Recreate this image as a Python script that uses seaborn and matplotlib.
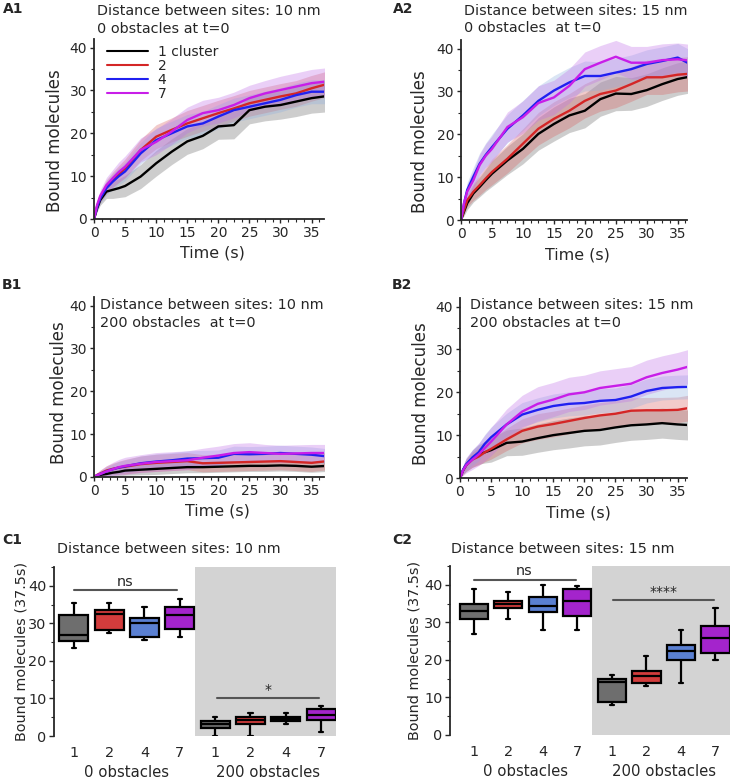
import numpy as np
import pandas as pd
import matplotlib
matplotlib.use("Agg")
import matplotlib.pyplot as plt
import matplotlib.transforms as mtransforms
import seaborn as sns
from matplotlib.ticker import MultipleLocator

sns.set_style("ticks")
plt.rcParams["font.family"] = ["DejaVu Sans"]

# ---------- data ----------

SERIES = ["1 cluster", "2", "4", "7"]
TIME = [0, 0.5, 1, 2, 3, 4, 5, 7.5, 10, 12.5, 15, 17.5, 20, 22.5, 25, 27.5, 30, 32.5, 35, 37.5]

# A1: 10 nm, 0 obstacles
a1_black = [0, 2.5, 4.4, 6.4, 6.8, 7.2, 7.7, 9.9, 13.0, 15.7, 18.1, 19.4, 21.6, 21.9, 25.4, 26.2, 26.6, 27.4, 28.2, 28.7]
a1_red = [0, 3.0, 5.0, 7.5, 9.1, 10.5, 11.8, 16.1, 19.2, 20.8, 22.3, 23.5, 24.7, 25.8, 27.0, 27.8, 28.6, 29.3, 30.5, 31.5]
a1_blue = [0, 2.8, 4.8, 7.2, 8.7, 10.0, 11.1, 15.3, 18.4, 20.0, 21.6, 22.3, 23.9, 25.4, 26.2, 27.0, 27.8, 28.9, 29.7, 29.7]
a1_magenta = [0, 3.3, 5.4, 7.9, 9.5, 11.0, 12.2, 16.1, 18.0, 20.4, 23.1, 24.7, 25.4, 26.6, 28.2, 29.3, 30.1, 30.9, 31.7, 32.1]
a1_sd_black = [0, 0.8, 1.2, 1.6, 2.0, 2.2, 2.5, 2.8, 3.0, 3.0, 3.0, 3.0, 3.0, 3.2, 3.2, 3.3, 3.3, 3.5, 3.5, 3.7]
a1_sd_red = [0, 0.8, 1.2, 1.6, 1.8, 2.0, 2.2, 2.5, 2.8, 2.8, 3.0, 3.0, 3.0, 3.0, 3.0, 3.0, 3.0, 3.0, 3.0, 3.0]
a1_sd_blue = [0, 0.8, 1.2, 1.6, 1.8, 2.0, 2.2, 2.5, 2.8, 2.8, 2.8, 2.8, 2.8, 2.8, 2.8, 2.8, 2.8, 2.8, 2.8, 2.8]
a1_sd_magenta = [0, 1.0, 1.4, 1.8, 2.0, 2.3, 2.5, 2.8, 3.0, 3.0, 3.0, 3.0, 3.0, 3.0, 3.0, 3.0, 3.2, 3.2, 3.2, 3.2]

# A2: 15 nm, 0 obstacles
a2_black = [0, 2.0, 3.9, 6.2, 7.7, 9.3, 10.8, 13.9, 16.6, 20.1, 22.4, 24.4, 25.5, 28.2, 29.5, 29.4, 30.3, 31.7, 32.9, 33.6]
a2_red = [0, 2.4, 4.6, 6.6, 8.1, 9.7, 11.2, 14.3, 17.8, 21.3, 23.6, 25.5, 27.8, 29.4, 30.2, 31.7, 33.3, 33.3, 33.9, 34.2]
a2_blue = [0, 4.0, 7.0, 10.1, 13.1, 15.2, 17.0, 21.3, 24.4, 27.8, 30.2, 32.1, 33.6, 33.6, 34.4, 35.2, 36.4, 37.1, 37.9, 36.0]
a2_magenta = [0, 4.0, 6.6, 9.3, 12.8, 15.0, 16.6, 21.7, 24.0, 27.3, 28.6, 31.3, 35.2, 36.7, 38.1, 36.7, 36.7, 37.3, 37.5, 37.1]
a2_sd_black = [0, 1.0, 1.5, 2.0, 2.3, 2.6, 3.0, 3.3, 3.5, 3.8, 4.0, 4.0, 4.0, 4.0, 4.0, 3.8, 3.8, 3.8, 3.8, 3.8]
a2_sd_red = [0, 1.0, 1.5, 2.0, 2.3, 2.6, 3.0, 3.3, 3.5, 3.8, 4.0, 4.0, 4.0, 4.0, 4.0, 4.0, 4.0, 4.0, 4.0, 4.0]
a2_sd_blue = [0, 1.2, 1.8, 2.2, 2.5, 2.8, 3.0, 3.3, 3.5, 3.5, 3.5, 3.5, 3.5, 3.3, 3.3, 3.3, 3.3, 3.3, 3.3, 3.3]
a2_sd_magenta = [0, 1.2, 1.8, 2.2, 2.5, 2.8, 3.0, 3.5, 3.8, 4.0, 4.0, 4.0, 4.0, 4.0, 3.8, 3.8, 3.8, 3.8, 3.8, 3.8]

# B1: 10 nm, 200 obstacles
b1_black = [0, 0.3, 0.5, 0.7, 1.0, 1.2, 1.5, 1.7, 1.9, 2.1, 2.3, 2.3, 2.4, 2.5, 2.6, 2.6, 2.7, 2.6, 2.4, 2.6]
b1_red = [0, 0.5, 0.8, 1.5, 1.9, 2.2, 2.4, 3.0, 3.3, 3.5, 3.7, 3.2, 3.3, 3.4, 3.5, 3.6, 3.7, 3.5, 3.3, 3.7]
b1_blue = [0, 0.4, 0.7, 1.3, 1.8, 2.2, 2.5, 3.2, 3.6, 3.9, 4.3, 4.4, 4.5, 5.4, 5.3, 5.4, 5.6, 5.4, 5.2, 4.8]
b1_magenta = [0, 0.4, 0.7, 1.3, 1.8, 2.3, 2.6, 3.1, 3.5, 3.7, 3.9, 4.5, 5.0, 5.6, 5.8, 5.6, 5.4, 5.5, 5.6, 5.6]
b1_sd_black = [0, 0.3, 0.5, 0.7, 0.9, 1.0, 1.1, 1.2, 1.3, 1.3, 1.3, 1.3, 1.3, 1.3, 1.3, 1.3, 1.3, 1.3, 1.3, 1.3]
b1_sd_red = [0, 0.5, 0.8, 1.1, 1.3, 1.5, 1.7, 1.9, 2.0, 2.0, 2.0, 2.0, 2.0, 2.0, 2.0, 2.0, 2.0, 2.0, 2.0, 2.0]
b1_sd_blue = [0, 0.4, 0.7, 1.0, 1.2, 1.4, 1.5, 1.7, 1.8, 1.8, 1.8, 1.8, 1.8, 1.8, 1.8, 1.8, 1.8, 1.8, 1.8, 1.8]
b1_sd_magenta = [0, 0.6, 0.9, 1.3, 1.6, 1.8, 2.0, 2.1, 2.2, 2.2, 2.2, 2.2, 2.2, 2.2, 2.2, 2.0, 2.0, 2.0, 2.0, 2.0]

# B2: 15 nm, 200 obstacles
b2_black = [0, 1.8, 3.0, 4.5, 5.5, 6.0, 6.5, 8.2, 8.5, 9.3, 10.0, 10.5, 11.0, 11.2, 11.8, 12.3, 12.5, 12.8, 12.5, 12.3]
b2_red = [0, 1.8, 3.0, 4.3, 5.0, 6.0, 6.8, 9.0, 11.0, 12.0, 12.6, 13.3, 14.0, 14.6, 15.0, 15.7, 15.8, 15.8, 15.9, 16.5]
b2_blue = [0, 2.0, 3.2, 4.8, 6.0, 8.0, 9.5, 12.5, 14.8, 15.9, 16.8, 17.3, 17.5, 18.0, 18.2, 19.0, 20.3, 21.0, 21.2, 21.3]
b2_magenta = [0, 1.8, 3.0, 4.3, 5.5, 7.0, 8.5, 12.5, 15.5, 17.3, 18.3, 19.5, 20.0, 21.0, 21.5, 22.0, 23.5, 24.5, 25.3, 26.3]
b2_sd_black = [0, 1.0, 1.5, 2.0, 2.3, 2.5, 2.8, 3.0, 3.2, 3.3, 3.4, 3.5, 3.5, 3.5, 3.5, 3.5, 3.5, 3.5, 3.5, 3.5]
b2_sd_red = [0, 1.0, 1.4, 1.8, 2.0, 2.2, 2.4, 2.6, 2.8, 3.0, 3.0, 3.0, 3.0, 3.0, 3.0, 3.0, 3.0, 3.0, 3.0, 3.0]
b2_sd_blue = [0, 1.0, 1.4, 1.8, 2.0, 2.2, 2.4, 2.6, 2.8, 2.8, 2.8, 2.8, 2.8, 2.8, 2.8, 2.8, 2.8, 2.8, 2.8, 2.8]
b2_sd_magenta = [0, 1.2, 1.8, 2.3, 2.6, 3.0, 3.3, 3.6, 3.8, 4.0, 4.0, 4.0, 4.0, 4.0, 4.0, 4.0, 4.0, 4.0, 4.0, 4.0]

# C: box stats per cluster count, [min, q1, median, q3, max]
BOX_LABELS = ["1", "2", "4", "7", "1", "2", "4", "7"]
c1_free = [[23.3, 25.3, 26.8, 32.3, 35.4], [27.4, 28.3, 32.4, 33.5, 35.4],
           [25.5, 26.4, 30.0, 31.4, 34.3], [26.4, 28.4, 32.3, 34.3, 36.4]]
c1_obst = [[0.0, 2.0, 3.2, 4.1, 5.1], [0.0, 3.2, 4.2, 5.1, 6.2],
           [3.2, 4.1, 4.6, 5.1, 6.2], [1.1, 4.2, 5.6, 7.3, 8.1]]
c2_free = [[26.8, 30.9, 33.0, 34.8, 38.8], [30.8, 33.8, 35.0, 35.8, 38.1],
           [27.9, 32.8, 34.3, 36.8, 40.0], [27.9, 31.8, 35.8, 38.8, 39.8]]
c2_obst = [[8.0, 8.8, 14.0, 15.0, 15.9], [13.0, 13.9, 15.8, 17.0, 21.0],
           [13.9, 19.9, 22.4, 23.9, 27.9], [19.9, 21.9, 25.9, 28.9, 33.9]]

# ---------- styling ----------

W, H = 736, 779
LINE_COLORS = {"1 cluster": "#000000", "2": "#d42626", "4": "#2020f0", "7": "#c81ee8"}
BAND_COLORS = {"1 cluster": "#6a6a6a", "2": "#d86060", "4": "#8fb0e0", "7": "#c070e8"}
BOX_COLORS = ["#6e6e6e", "#d23c3c", "#5a80d2", "#a424cc"]


def px_axes(fig, left, top, width, height):
    return fig.add_axes([left / W, 1 - (top + height) / H, width / W, height / H])


def draw_lines(ax, means, sds, xmax, ylab_xy, xlab_x, legend=False):
    t = np.array(TIME)
    for name, m, s in zip(SERIES, means, sds):
        m, s = np.array(m), np.array(s)
        ax.fill_between(t, m - s, m + s, color=BAND_COLORS[name], alpha=0.33, lw=0)
    df = pd.DataFrame({
        "t": np.tile(t, len(SERIES)),
        "v": np.concatenate(means),
        "series": np.repeat(SERIES, len(t)),
    })
    sns.lineplot(data=df, x="t", y="v", hue="series", hue_order=SERIES,
                 palette=LINE_COLORS, lw=1.7, ax=ax, legend=legend)
    ax.set_xlim(0, xmax)
    ax.set_ylim(0, 42)
    ax.set_xticks([0, 5, 10, 15, 20, 25, 30, 35])
    ax.set_yticks([0, 10, 20, 30, 40])
    ax.xaxis.set_minor_locator(MultipleLocator(1.25))
    ax.yaxis.set_minor_locator(MultipleLocator(5))
    ax.tick_params(which="major", length=3, width=1, labelsize=10, pad=2)
    ax.tick_params(which="minor", length=2, width=0.8)
    for sp in ["left", "bottom"]:
        ax.spines[sp].set_linewidth(1.3)
    sns.despine(ax=ax)
    ax.set_xlabel("Time (s)", fontsize=11.4, va="top")
    ax.xaxis.set_label_coords(xlab_x, -0.15)
    ax.set_ylabel("Bound molecules", fontsize=12)
    ax.yaxis.set_label_coords(*ylab_xy)
    if legend:
        ax.legend(frameon=False, loc="upper left", bbox_to_anchor=(13 / 230, 1 - 6 / 180),
                  fontsize=10, handlelength=2.95, labelspacing=0.0,
                  handletextpad=0.7, borderaxespad=0, borderpad=0)
        for line in ax.get_legend().get_lines():
            line.set_linewidth(1.5)


def draw_boxes(ax, free, obst, xl, ylab_x, ns_y, star_y, star_text, star_text_y, ns_text_y, ns_x1, star_x):
    rows = []
    for i, vals in enumerate(free + obst):
        for v in vals:
            rows.append({"slot": str(i), "v": v})
    df = pd.DataFrame(rows)
    order = [str(i) for i in range(8)]
    pal = {str(i): BOX_COLORS[i % 4] for i in range(8)}
    ax.axvspan(3.42, 8, color="#d3d3d3", lw=0, zorder=0)
    sns.boxplot(data=df, x="slot", y="v", hue="slot", order=order, hue_order=order,
                palette=pal, whis=np.inf, width=0.82, linewidth=1.6, linecolor="black",
                saturation=1, legend=False, ax=ax, capwidths=0.12)
    ax.set_xlim(xl, 7.42)
    ax.set_ylim(0, 45)
    ax.set_xticks(range(8))
    ax.set_xticklabels(BOX_LABELS)
    ax.set_yticks([0, 10, 20, 30, 40])
    ax.yaxis.set_minor_locator(MultipleLocator(5))
    ax.tick_params(axis="x", length=0, labelsize=10.4, pad=7)
    ax.tick_params(axis="y", which="major", length=3.5, width=1, labelsize=10.4, pad=2)
    ax.tick_params(axis="y", which="minor", length=2, width=0.8)
    ax.spines["left"].set_linewidth(1.3)
    sns.despine(ax=ax, bottom=True)
    ax.set_xlabel("")
    ax.set_ylabel("Bound molecules (37.5s)", fontsize=10.4)
    ax.yaxis.set_label_coords(ylab_x, 0.5)
    ax.plot([0, ns_x1], [ns_y, ns_y], color="#555555", lw=1.5)
    ax.text(ns_x1 / 2, ns_text_y, "ns", ha="center", va="center", fontsize=10.4)
    ax.plot(star_x, [star_y, star_y], color="#555555", lw=1.5)
    ax.text(sum(star_x) / 2, star_text_y, star_text, ha="center", va="center", fontsize=10)
    tr = mtransforms.blended_transform_factory(ax.transData, ax.transAxes)
    ax.text(1.5, -0.243, "0 obstacles", ha="center", va="baseline", fontsize=10.7, transform=tr)
    ax.text(5.5, -0.243, "200 obstacles", ha="center", va="baseline", fontsize=10.7, transform=tr)


fig = plt.figure(figsize=(W / 100, H / 100), dpi=100)

ax_a1 = px_axes(fig, 94, 39, 230, 180)
draw_lines(ax_a1, [a1_black, a1_red, a1_blue, a1_magenta],
           [a1_sd_black, a1_sd_red, a1_sd_blue, a1_sd_magenta], 37.0,
           (-0.13, 0.433), 0.515, legend=True)
ax_a2 = px_axes(fig, 461, 40, 226, 180)
draw_lines(ax_a2, [a2_black, a2_red, a2_blue, a2_magenta],
           [a2_sd_black, a2_sd_red, a2_sd_blue, a2_sd_magenta], 36.5,
           (-0.142, 0.433), 0.515)
ax_b1 = px_axes(fig, 94, 297, 230, 180)
draw_lines(ax_b1, [b1_black, b1_red, b1_blue, b1_magenta],
           [b1_sd_black, b1_sd_red, b1_sd_blue, b1_sd_magenta], 37.0,
           (-0.113, 0.47), 0.535)
ax_b2 = px_axes(fig, 460, 298, 227, 180)
draw_lines(ax_b2, [b2_black, b2_red, b2_blue, b2_magenta],
           [b2_sd_black, b2_sd_red, b2_sd_blue, b2_sd_magenta], 36.5,
           (-0.132, 0.47), 0.52)

ax_c1 = px_axes(fig, 54, 567, 282, 169)
draw_boxes(ax_c1, c1_free, c1_obst, -0.56, -0.092, 39.0, 10.2, "*", 12.2, 41.1, 2.92, [4.05, 6.94])
ax_c2 = px_axes(fig, 450, 566, 280, 169)
draw_boxes(ax_c2, c2_free, c2_obst, -0.685, -0.1, 41.4, 36.0, "****", 38.0, 43.8, 2.95, [4.02, 6.96])

# headers and panel labels
def fig_text(x, y, s, **kw):
    fig.text(x / W, 1 - y / H, s, **kw)

hdr = dict(ha="left", va="baseline", fontsize=10.4)
fig_text(97, 15, "Distance between sites: 10 nm", **hdr)
fig_text(97, 33, "0 obstacles at t=0", **hdr)
fig_text(464, 15, "Distance between sites: 15 nm", **hdr)
fig_text(464, 32, "0 obstacles  at t=0", **hdr)
fig_text(100, 309, "Distance between sites: 10 nm", **hdr)
fig_text(100, 327, "200 obstacles  at t=0", **hdr)
fig_text(470, 309, "Distance between sites: 15 nm", **hdr)
fig_text(470, 327, "200 obstacles at t=0", **hdr)
fig_text(169, 553, "Distance between sites: 10 nm", ha="center", va="baseline", fontsize=10.4)
fig_text(563, 553, "Distance between sites: 15 nm", ha="center", va="baseline", fontsize=10.4)

lab = dict(ha="center", va="center", fontsize=10, fontweight="bold")
for x, y, s in [(13, 9, "A1"), (403, 9, "A2"), (12, 285, "B1"), (402, 285, "B2"),
                (12, 540, "C1"), (402, 540, "C2")]:
    fig_text(x, y, s, **lab)

fig.savefig("out.png", dpi=100)
